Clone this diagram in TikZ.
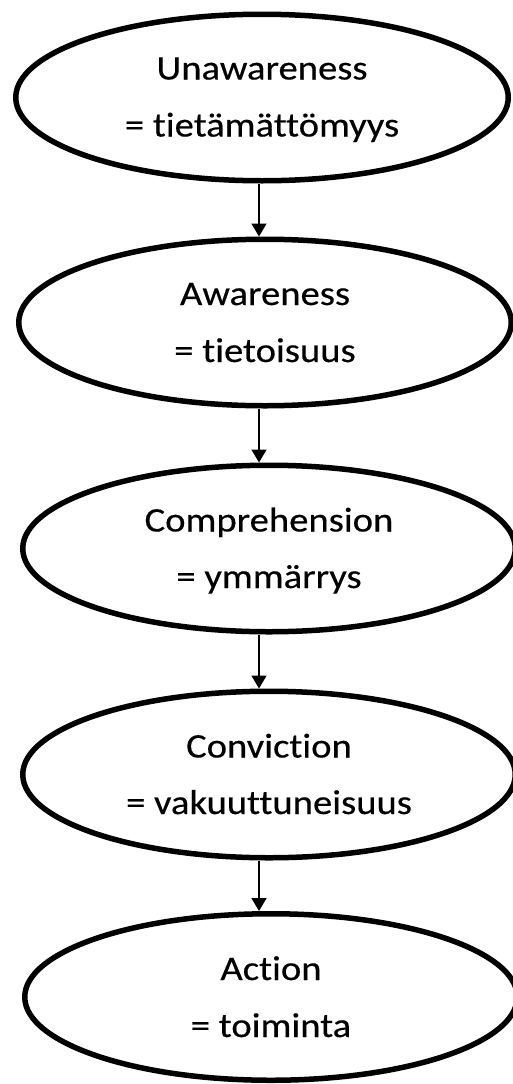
\documentclass[tikz,border=0pt]{standalone}
\usepackage{fontspec}
\setmainfont{Carlito}[FakeStretch=1.12,FakeBold=0.4,Ligatures=NoCommon]
\usetikzlibrary{shapes.geometric,arrows.meta}
\begin{document}
\begin{tikzpicture}[x=1pt,y=-1pt,
  stage/.style={ellipse,draw,line width=5.5pt,minimum width=492.5pt,minimum height=166.5pt,inner sep=0pt},
  lbl/.style={anchor=base,font=\fontsize{34.5}{40}\selectfont,inner sep=0pt},
  arr/.style={-{Triangle[length=13pt,width=15pt]},line width=1.6pt}]
\useasboundingbox (0,0) rectangle (512,1084);
\coordinate (ax) at (259,0);
\node[stage] (e1) at (262,97.5) {};
\node[stage] (e2) at (265,322.5) {};
\node[stage] (e3) at (269,548.5) {};
\node[stage] (e4) at (269,774.5) {};
\node[stage] (e5) at (271,997) {};
\node[lbl] (t1a) at (262,79.5) {Unawareness};
\node[lbl] (t1b) at (262,136.5) {= tietämättömyys};
\node[lbl] (t2a) at (265,305) {Awareness};
\node[lbl] (t2b) at (265,362) {= tietoisuus};
\node[lbl] (t3a) at (269,531.5) {Comprehension};
\node[lbl] (t3b) at (269,588) {= ymmärrys};
\node[lbl] (t4a) at (269,757.5) {Conviction};
\node[lbl] (t4b) at (269,814) {= vakuuttuneisuus};
\node[lbl] (t5a) at (271,980) {Action};
\node[lbl] (t5b) at (271,1037) {= toiminta};
\draw[arr] (e1.south -| ax) -- (e2.north -| ax);
\draw[arr] (e2.south -| ax) -- (e3.north -| ax);
\draw[arr] (e3.south -| ax) -- (e4.north -| ax);
\draw[arr] (e4.south -| ax) -- (e5.north -| ax);
\end{tikzpicture}
\end{document}
